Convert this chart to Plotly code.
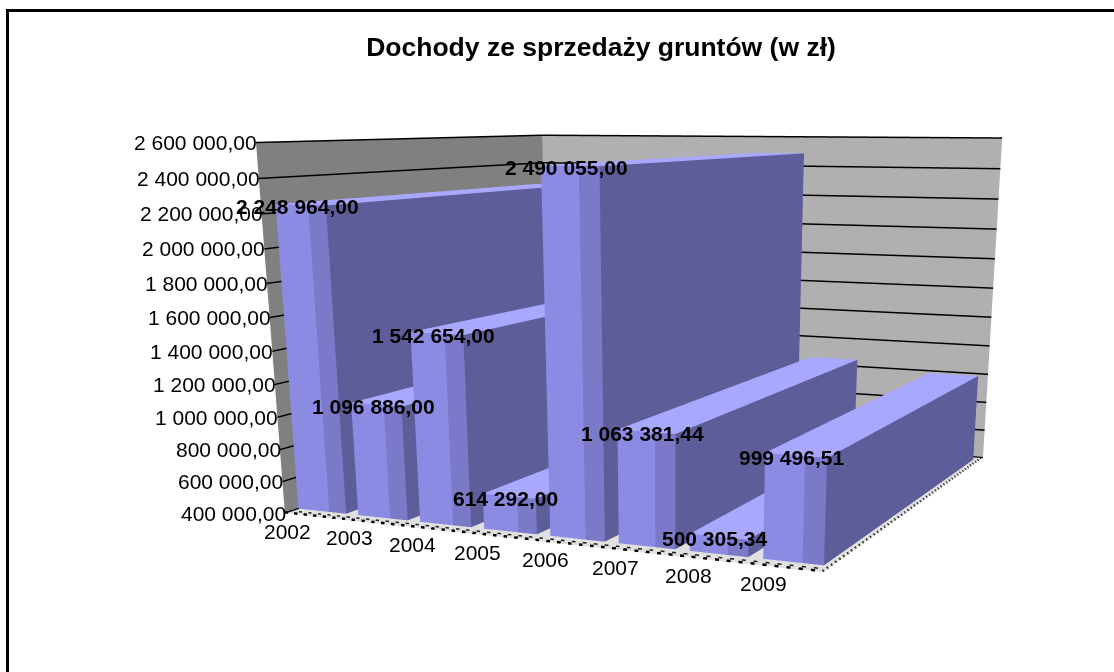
import plotly.graph_objects as go

categories = ["2002", "2003", "2004", "2005", "2006", "2007", "2008", "2009"]
values = [2248964.00, 1096886.00, 1542654.00, 614292.00, 2490055.00, 1063381.44, 500305.34, 999496.51]
value_labels = ["2 248 964,00", "1 096 886,00", "1 542 654,00", "614 292,00", "2 490 055,00", "1 063 381,44", "500 305,34", "999 496,51"]
tick_values = [400000, 600000, 800000, 1000000, 1200000, 1400000, 1600000, 1800000, 2000000, 2200000, 2400000, 2600000]
tick_labels = ["400 000,00", "600 000,00", "800 000,00", "1 000 000,00", "1 200 000,00", "1 400 000,00", "1 600 000,00", "1 800 000,00", "2 000 000,00", "2 200 000,00", "2 400 000,00", "2 600 000,00"]
title = "Dochody ze sprzedaży gruntów (w zł)"

# The scene is larger than the window: the picture has a long lens, and Plotly's
# field of view is fixed, so the long focal length comes from a large viewport.
W, H = 1354, 1398
FONT = "Liberation Sans"
bar_w, y0, y1 = 0.8, 0.04, 0.97
x_max, base = 7.9, tick_values[0]
s = x_max / 7.8
FRONT, STRIP, SIDE, TOP = "#8B8BE3", "#7A7AC8", "#5D5D99", "#A8A8FF"

fig = go.Figure()


def bar_mesh(i, val):
    xs = [i, i + bar_w * 0.65, i + bar_w]
    X, Y, Z, I, J, K, C = [], [], [], [], [], [], []

    def quad(points, colour):
        n = len(X)
        for q in points:
            X.append(q[0]); Y.append(q[1]); Z.append(q[2])
        I.extend([n, n]); J.extend([n + 1, n + 2]); K.extend([n + 2, n + 3]); C.extend([colour, colour])

    quad([(xs[0], y0, base), (xs[1], y0, base), (xs[1], y0, val), (xs[0], y0, val)], FRONT)
    quad([(xs[1], y0, base), (xs[2], y0, base), (xs[2], y0, val), (xs[1], y0, val)], STRIP)
    quad([(xs[2], y0, base), (xs[2], y1, base), (xs[2], y1, val), (xs[2], y0, val)], SIDE)
    quad([(xs[0], y0, val), (xs[2], y0, val), (xs[2], y1, val), (xs[0], y1, val)], TOP)
    return go.Mesh3d(x=X, y=Y, z=Z, i=I, j=J, k=K, facecolor=C, flatshading=True,
                     lighting=dict(ambient=1, diffuse=0, specular=0, fresnel=0),
                     hoverinfo="skip", showscale=False, name=categories[i])


for idx, v in enumerate(values):
    fig.add_trace(bar_mesh(idx, v))

# heavier grid lines on the two walls
for tv in tick_values:
    fig.add_trace(go.Scatter3d(x=[0, 0, x_max], y=[0, 1, 1], z=[tv, tv, tv], mode="lines",
                               line=dict(color="black", width=2), hoverinfo="skip", showlegend=False))

# dashed floor rim along the front and right edges
rim_z = base + 6000
for xs_, ys_, colour, width, dash in [([0, x_max], [0, 0], "black", 5, "dash"),
                                      ([0, x_max], [0.014, 0.014], "#222222", 3, "dash"),
                                      ([x_max - 0.01, x_max - 0.01], [0, 1], "#333333", 5, "dash")]:
    fig.add_trace(go.Scatter3d(x=xs_, y=ys_, z=[rim_z, rim_z], mode="lines",
                               line=dict(color=colour, width=width, dash=dash),
                               hoverinfo="skip", showlegend=False))

reg = dict(family=FONT, size=21, color="black")
ann = []
for tv, tl in zip(tick_values, tick_labels):
    ann.append(dict(x=0, y=0, z=tv, text=tl, showarrow=False, xanchor="right", xshift=3, font=reg))
for i, c in enumerate(categories):
    ann.append(dict(x=i * s, y=0, z=base, text=c, showarrow=False, xshift=3, yshift=-18, font=reg))
for i, (val, l) in enumerate(zip(values, value_labels)):
    ann.append(dict(x=(i * 0.985 + 0.38) * s, y=y0, z=val, text="<b>%s</b>" % l, showarrow=False, xshift=-2, yshift=-2, font=reg))

ax = dict(showgrid=False, showticklabels=False, showline=False, zeroline=False, title="",
          showspikes=False, ticks="", showbackground=True)
fig.update_layout(
    width=W, height=H, margin=dict(l=0, r=0, t=0, b=0), paper_bgcolor="white", showlegend=False,
    title=dict(text="<b>%s</b>" % title, x=601 / W, y=1 - 47 / H, xanchor="center", yanchor="middle",
               font=dict(family=FONT, size=26.5, color="black")),
    scene=dict(
        domain=dict(x=[0, 1], y=[0, 1]), aspectmode="manual",
        aspectratio=dict(x=1.613, y=1.602, z=1),
        camera=dict(eye=dict(x=2.109, y=-4.652, z=0.577), center=dict(x=1.44, y=-3.135, z=0),
                    up=dict(x=0, y=0, z=1)),
        xaxis=dict(ax, range=[0, x_max], backgroundcolor="#808080"),
        yaxis=dict(ax, range=[0, 1], backgroundcolor="#B0B0B0"),
        zaxis=dict(ax, range=[tick_values[0], tick_values[-1]], tickvals=tick_values, showgrid=True,
                   gridcolor="black", gridwidth=3, backgroundcolor="#E0E0E0"),
        annotations=ann),
)
fig.add_shape(type="rect", xref="paper", yref="paper", x0=7.5 / W, x1=1130 / W, y0=1 - 690 / H, y1=1 - 10.5 / H,
              line=dict(color="black", width=3))
fig.write_html("out.html", post_script="document.body.style.margin='0';document.body.style.overflow='hidden';")
